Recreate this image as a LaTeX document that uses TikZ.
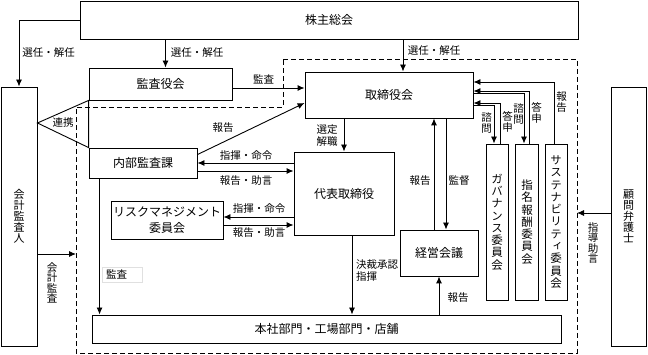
\documentclass[tikz,border=0pt]{standalone}
\usepackage{fontspec}
\setmainfont{Noto Sans CJK JP}
\newfontfamily\cjkvert[RawFeature=+vert]{Noto Sans CJK JP}
\usepackage{tikz}
\usetikzlibrary{arrows.meta, positioning, calc}
\tikzset{
  >=latex,
  % Organi
  box/.style={draw,line width=0.9pt,inner sep=2pt,align=center,font=\fontsize{12}{16}\selectfont},
  box vert/.style={box,font=\cjkvert\fontsize{11.5}{12.3}\selectfont},
  box side/.style={box,font=\cjkvert\fontsize{11}{11}\selectfont},
  % Connessioni
  connect/.style={line width=0.9pt},
  connect arrow/.style={-{Latex[length=7,width=6]},line width=0.9pt},
  frame dash/.style={line width=0.9pt,dash pattern=on 5pt off 3pt},
  % Etichette
  lbl/.style={inner sep=1pt,align=center,font=\fontsize{10.5}{12}\selectfont},
  lbl vert/.style={lbl,font=\cjkvert\fontsize{10.5}{10.5}\selectfont}
}
\begin{document}
\begin{tikzpicture}[x=1pt,y=-1pt]
  \useasboundingbox (0,0) rectangle (648,355);
  % group frame
  \draw[frame dash] (283,59) -- (577,59) -- (577,353) -- (76,353) -- (76,107) -- (283,107) -- cycle;
  \coordinate (frameL) at (76,254);
  \coordinate (frameR) at (577,213);
  % organs
  \node[box,minimum width=498pt,minimum height=38pt] (kabunushi) at (329,20) {株主総会};
  \node[box,minimum width=143pt,minimum height=32pt] (kansayaku) at (160.5,84) {監査役会};
  \node[box,minimum width=168pt,minimum height=46pt] (torishimari) at (389,95) {取締役会};
  \node[box,minimum width=108pt,minimum height=30pt] (naibu) at (143,163) {内部監査課};
  \node[box,minimum width=100pt,minimum height=83pt] (daihyo) at (344,193.5) {代表取締役};
  \node[box,minimum width=112pt,minimum height=38pt] (risk) at (167,220) {リスクマネジメント\\委員会};
  \node[box,minimum width=78pt,minimum height=46pt] (keiei) at (439,253) {経営会議};
  \node[box,minimum width=469pt,minimum height=28pt] (honsha) at (326.5,329) {本社部門・工場部門・店舗};
  \node[box side,minimum width=36pt,minimum height=259pt] (kaikei) at (19,216.5) {会\\計\\監\\査\\人};
  \node[box side,minimum width=35pt,minimum height=259pt] (komon) at (628.5,216.5) {顧\\問\\弁\\護\\士};
  % committees
  \node[box vert,minimum width=22pt,minimum height=156pt] (gov) at (497,222) {ガ\\バ\\ナ\\ン\\ス\\委\\員\\会};
  \node[box vert,minimum width=23pt,minimum height=156pt] (shimei) at (527,222) {指\\名\\報\\酬\\委\\員\\会};
  \node[box vert,minimum width=22pt,minimum height=156pt] (sus) at (556,222) {サ\\ス\\テ\\ナ\\ビ\\リ\\テ\\ィ\\委\\員\\会};
  % election
  \draw[connect arrow] (kabunushi.west) -| (kaikei.north);
  \draw[connect arrow] ([xshift=5pt]kansayaku.north |- kabunushi.south) -- ([xshift=5pt]kansayaku.north);
  \draw[connect arrow] ([xshift=14pt]torishimari.north |- kabunushi.south) -- ([xshift=14pt]torishimari.north);
  \node[lbl] (senninA) at (48.5,53) {選任・解任};
  \node[lbl] (senninB) at (197,53) {選任・解任};
  \node[lbl] (senninC) at (434,51) {選任・解任};
  % audit
  \draw[connect arrow] ([yshift=-4pt]kansayaku.east) -- ([yshift=-4pt]kansayaku.east -| torishimari.west);
  \node[lbl] (kansaA) at (263.5,79) {監査};
  % cooperation
  \coordinate (renkei) at (kaikei.east |- 0,123);
  \draw[connect] (kansayaku.south west) -- (renkei) -- (naibu.north west) -- cycle;
  \node[lbl] (renkeiL) at (63,123) {連携};
  \draw[connect arrow] ([yshift=-7pt]naibu.north east) -- ([yshift=-8pt]torishimari.west);
  \node[lbl] (hokokuA) at (223,128) {報告};
  % president
  \draw[connect arrow] (daihyo.north |- torishimari.south) -- (daihyo.north);
  \node[lbl] (sentei) at (327,136) {選定\\解職};
  \draw[connect arrow] (daihyo.west |- naibu.east) -- (naibu.east);
  \draw[connect arrow] ([yshift=-8pt]naibu.east) -- ([yshift=-8pt]naibu.east -| daihyo.west);
  \node[lbl] (shikiA) at (246,156) {指揮・命令};
  \node[lbl] (hokokuB) at (246,181) {報告・助言};
  \draw[connect arrow] ([yshift=3pt]risk.east -| daihyo.west) -- ([yshift=3pt]risk.east);
  \draw[connect arrow] ([yshift=-5pt]risk.east) -- ([yshift=-5pt]risk.east -| daihyo.west);
  \node[lbl] (shikiB) at (259,209) {指揮・命令};
  \node[lbl] (hokokuC) at (259,233) {報告・助言};
  % management meeting
  \draw[connect arrow] ([xshift=-5pt]keiei.north) -- ([xshift=-5pt]keiei.north |- torishimari.south);
  \draw[connect arrow] ([xshift=7pt]keiei.north |- torishimari.south) -- ([xshift=7pt]keiei.north);
  \node[lbl] (hokokuD) at (420,181) {報告};
  \node[lbl] (kantoku) at (459,181) {監督};
  % operations
  \draw[connect arrow] ([xshift=8pt]daihyo.south) -- ([xshift=8pt]daihyo.south |- honsha.north);
  \node[lbl,anchor=west,align=left] (kessai) at (355,271) {決裁承認\\指揮};
  \draw[connect arrow] (keiei.south |- honsha.north) -- (keiei.south);
  \node[lbl] (hokokuE) at (458,298) {報告};
  \draw[connect arrow] ([xshift=11pt]naibu.south west) -- ([xshift=11pt]naibu.south west |- honsha.north);
  \node[lbl,draw=black!12,anchor=west,inner xsep=4pt,text width=32pt,align=left,minimum height=15pt] (kansaB) at (102,274.5) {監査};
  % external
  \draw[connect arrow] (kaikei.east |- frameL) -- (frameL);
  \node[lbl vert] (kaikeiL) at (52,283) {会\\計\\監\\査};
  \draw[connect arrow] (komon.west |- frameR) -- (frameR);
  \node[lbl vert] (shidoL) at (593,243) {指\\導\\助\\言};
  % committees links
  \draw[connect arrow] ([yshift=-10pt]torishimari.east) -| ([xshift=-3pt]gov.north);
  \draw[connect arrow] ([xshift=3pt]gov.north) |- ([yshift=-8pt]torishimari.east);
  \draw[connect arrow] ([yshift=2pt]torishimari.east) -| ([xshift=-3pt]shimei.north);
  \draw[connect arrow] ([xshift=2pt]shimei.north) |- ([yshift=4pt]torishimari.east);
  \draw[connect arrow] ([xshift=-2pt]sus.north) |- ([yshift=13pt]torishimari.east);
  \node[lbl vert] (shimonA) at (486.5,123) {諮\\問};
  \node[lbl vert] (toshinA) at (507.5,122) {答\\申};
  \node[lbl vert] (shimonB) at (518.5,114) {諮\\問};
  \node[lbl vert] (toshinB) at (536.5,113) {答\\申};
  \node[lbl vert] (hokokuF) at (561.5,102) {報\\告};
\end{tikzpicture}
\end{document}
